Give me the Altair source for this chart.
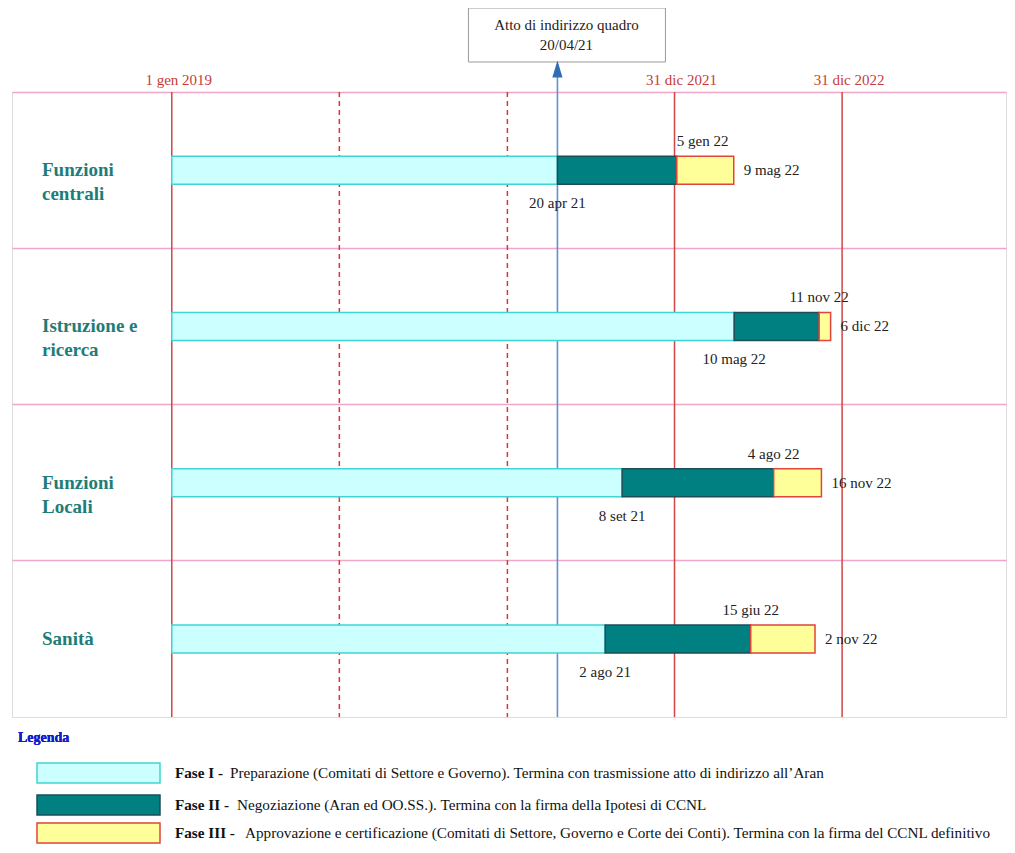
import altair as alt
import pandas as pd

# ---------------- data ----------------
rows = ["Funzioni centrali", "Istruzione e ricerca", "Funzioni Locali", "Sanità"]
row_labels = ["Funzioni\ncentrali", "Istruzione e\nricerca", "Funzioni\nLocali", "Sanità"]

fase1_start = ["2019-01-01", "2019-01-01", "2019-01-01", "2019-01-01"]
fase1_end = ["2021-04-20", "2022-05-10", "2021-09-08", "2021-08-02"]
fase2_end = ["2022-01-05", "2022-11-11", "2022-08-04", "2022-06-15"]
fase3_end = ["2022-05-09", "2022-12-06", "2022-11-16", "2022-11-02"]

fase1_end_labels = ["20 apr 21", "10 mag 22", "8 set 21", "2 ago 21"]
fase2_end_labels = ["5 gen  22", "11 nov 22", "4 ago 22", "15 giu 22"]
fase3_end_labels = ["9 mag 22", "6 dic 22", "16 nov 22", "2 nov 22"]
fase2_label_align = ["left", "center", "center", "center"]

phases = ["Fase I", "Fase II", "Fase III"]
phase_fill = ["#ccffff", "#008080", "#ffff99"]
phase_stroke = ["#40d4d4", "#1c4e5a", "#e0443c"]
phase_bold = ["Fase I -", "Fase II -", "Fase III -"]
phase_desc = [
    "Preparazione (Comitati di Settore e Governo). Termina con trasmissione atto di indirizzo all\u2019Aran",
    "Negoziazione (Aran ed OO.SS.). Termina con la firma della Ipotesi di CCNL",
    "Approvazione e certificazione (Comitati di Settore, Governo e Corte dei Conti). Termina con la firma del CCNL definitivo",
]

milestone_dates = ["2019-01-01", "2021-12-31", "2022-12-31"]
milestone_labels = ["1 gen 2019", "31 dic 2021", "31 dic 2022"]
year_start_dates = ["2020-01-01", "2021-01-01"]

atto_date = "2021-04-20"
atto_lines = ["Atto di indirizzo quadro", "20/04/21"]

# ---------------- tables ----------------
bar_rows = []
for i, r in enumerate(rows):
    bounds = [fase1_start[i], fase1_end[i], fase2_end[i], fase3_end[i]]
    for j, p in enumerate(phases):
        bar_rows.append({"row": r, "fase": p, "start": bounds[j], "end": bounds[j + 1]})
bars_df = pd.DataFrame(bar_rows)

lab_df = pd.DataFrame({
    "row": rows, "label": row_labels,
    "e1": fase1_end, "e2": fase2_end, "e3": fase3_end,
    "l1": fase1_end_labels, "l2": fase2_end_labels, "l3": fase3_end_labels,
    "a2": fase2_label_align,
})
mile_df = pd.DataFrame({"date": milestone_dates, "label": milestone_labels})
year_df = pd.DataFrame({"date": year_start_dates})
atto_df = pd.DataFrame({"date": [atto_date], "l1": [atto_lines[0]], "l2": [atto_lines[1]]})
leg_df = pd.DataFrame({"fase": phases, "bold": phase_bold, "desc": phase_desc})

# ---------------- scales ----------------
W, H = 994, 625
SERIF = "Liberation Serif"
PINK = "#f0a6c8"

xscale = alt.Scale(domain=[alt.DateTime(year=2018, month=1, date=18, utc=True),
                           alt.DateTime(year=2023, month=12, date=23, utc=True)])
Y = alt.Y("row:N", sort=rows,
          scale=alt.Scale(paddingInner=0, paddingOuter=0),
          axis=alt.Axis(grid=True, bandPosition=0, gridColor=PINK, gridWidth=1.5,
                        labels=False, ticks=False, domain=False, title=""))
color_fill = alt.Color("fase:N", scale=alt.Scale(domain=phases, range=phase_fill), legend=None)
color_stroke = alt.Stroke("fase:N", scale=alt.Scale(domain=phases, range=phase_stroke), legend=None)

# vertical reference lines
solid = alt.Chart(mile_df).mark_rule(color="#d24646", strokeWidth=1.5).encode(
    x=alt.X("date:T", scale=xscale, axis=None))
dashed = alt.Chart(year_df).mark_rule(color="#e03434", strokeWidth=1.5, strokeDash=[5, 4]).encode(
    x=alt.X("date:T", scale=xscale, axis=None))
mile_text = alt.Chart(mile_df).mark_text(font=SERIF, fontSize=15, color="#c83a3a",
                                         baseline="middle", dx=7).encode(
    x=alt.X("date:T", scale=xscale, axis=None), y=alt.value(-12), text="label:N")

# blue atto line + arrow + box
atto_rule = alt.Chart(atto_df).mark_rule(color="#5e92d0", strokeWidth=1.6).encode(
    x=alt.X("date:T", scale=xscale, axis=None), y=alt.value(-22), y2=alt.value(H))
atto_arrow = alt.Chart(atto_df).mark_point(shape="M0,-1L0.6,1L-0.6,1Z", filled=True, opacity=1,
                                           color="#2f6db5", size=289).encode(
    x=alt.X("date:T", scale=xscale, axis=None), y=alt.value(-23))
atto_box = alt.Chart(atto_df).mark_rect(fill="white", stroke="#9a9a9a", strokeWidth=1,
                                        xOffset=-89, x2Offset=108).encode(
    x=alt.X("date:T", scale=xscale, axis=None), x2="date:T",
    y=alt.value(-84), y2=alt.value(-30))
atto_t1 = alt.Chart(atto_df).mark_text(font=SERIF, fontSize=15, color="#222", dx=9).encode(
    x=alt.X("date:T", scale=xscale, axis=None), y=alt.value(-67), text="l1:N")
atto_t2 = alt.Chart(atto_df).mark_text(font=SERIF, fontSize=15, color="#222", dx=9).encode(
    x=alt.X("date:T", scale=xscale, axis=None), y=alt.value(-47), text="l2:N")

# bars
bars = alt.Chart(bars_df).mark_bar(size=28, strokeWidth=1.5, opacity=1).encode(
    x=alt.X("start:T", scale=xscale, axis=None), x2="end:T",
    y=Y, fill=color_fill, stroke=color_stroke)

# row labels
row_text = alt.Chart(lab_df).mark_text(font=SERIF, fontSize=19, fontWeight="bold",
                                       color="#1e7d78", align="left", lineBreak="\n",
                                       lineHeight=24).encode(
    x=alt.value(30), y=Y, text="label:N")

# date labels
below = alt.Chart(lab_df).mark_text(font=SERIF, fontSize=15, color="#222", dy=33).encode(
    x=alt.X("e1:T", scale=xscale, axis=None), y=Y, text="l1:N")
above_layers = []
for a in sorted(set(fase2_label_align)):
    above_layers.append(
        alt.Chart(lab_df).transform_filter(alt.datum.a2 == a).mark_text(
            font=SERIF, fontSize=15, color="#222", dy=-29, align=a).encode(
            x=alt.X("e2:T", scale=xscale, axis=None), y=Y, text="l2:N"))
right = alt.Chart(lab_df).mark_text(font=SERIF, fontSize=15, color="#222", dx=10, align="left").encode(
    x=alt.X("e3:T", scale=xscale, axis=None), y=Y, text="l3:N")

# legend (drawn below the plot)
legend_layers = [
    alt.Chart(leg_df).mark_text(font=SERIF, fontSize=14, fontWeight="bold", color="#1a1acd",
                                align="left").encode(x=alt.value(6), y=alt.value(646),
                                                     text=alt.value("Legenda"))
]
leg_y = [681, 713, 741]
desc_dx = [55, 62, 70]
for k, p in enumerate(phases):
    sub = leg_df[leg_df["fase"] == p]
    legend_layers.append(
        alt.Chart(sub).mark_rect(strokeWidth=1.5).encode(
            x=alt.value(25), x2=alt.value(148),
            y=alt.value(leg_y[k] - 10), y2=alt.value(leg_y[k] + 10),
            fill=color_fill, stroke=color_stroke))
    legend_layers.append(
        alt.Chart(sub).mark_text(font=SERIF, fontSize=15.2, fontWeight="bold", color="#111",
                                 align="left").encode(
            x=alt.value(163), y=alt.value(leg_y[k]), text="bold:N"))
    legend_layers.append(
        alt.Chart(sub).mark_text(font=SERIF, fontSize=15.2, color="#111", align="left",
                                 dx=desc_dx[k]).encode(
            x=alt.value(163), y=alt.value(leg_y[k]), text="desc:N"))

chart = alt.layer(
    solid, dashed, atto_rule, bars, row_text, below, *above_layers, right,
    mile_text, atto_box, atto_t1, atto_t2, atto_arrow, *legend_layers
).properties(
    width=W, height=H,
    padding={"left": 4, "top": 84, "right": 1, "bottom": 127},
    autosize=alt.AutoSizeParams(type="none"),
).configure_view(stroke=PINK, strokeWidth=1.5).configure(background="white")

chart.save("out.html", embed_options={"renderer": "svg", "actions": False})
